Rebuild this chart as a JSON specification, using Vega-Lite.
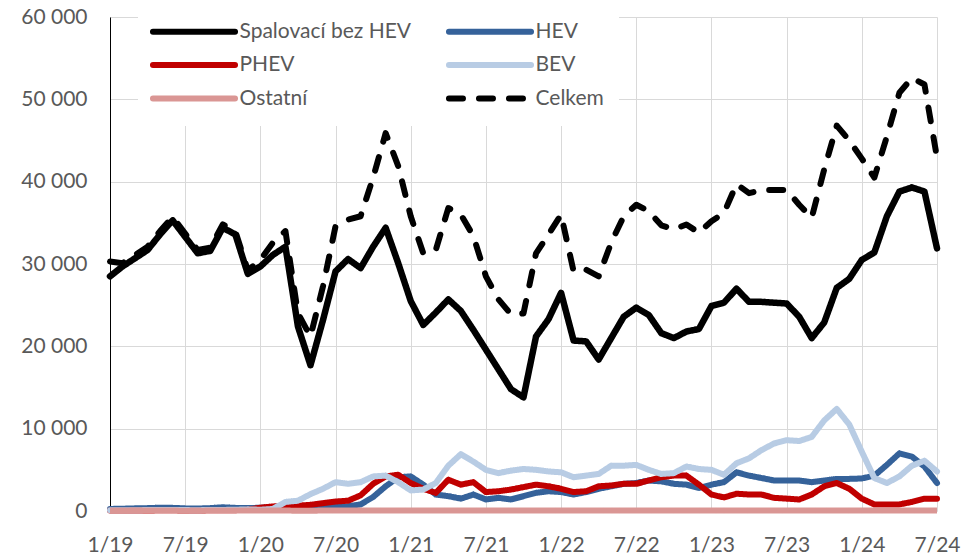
{
  "$schema": "https://vega.github.io/schema/vega-lite/v6.json",
  "width": 827,
  "height": 494,
  "autosize": "none",
  "padding": {"left": 110, "top": 17, "right": 37, "bottom": 44},
  "background": "white",
  "config": {
    "view": {"stroke": null},
    "font": "Lato",
    "locale": {"number": {"decimal": ",", "thousands": " ", "grouping": [3], "currency": ["", " Kč"]}},
    "axis": {"labelFont": "Lato", "labelFontSize": 21, "labelColor": "#595959", "gridColor": "#D9D9D9", "gridWidth": 1, "ticks": false, "title": null},
    "legend": {
      "title": null,
      "orient": "none",
      "legendX": 28,
      "legendY": -11,
      "columns": 2,
      "columnPadding": 24,
      "rowPadding": 8.5,
      "padding": 15,
      "fillColor": "white",
      "symbolType": "M-6,0H6",
      "symbolSize": 187,
      "symbolStrokeWidth": 6,
      "symbolOffset": 30.5,
      "labelOffset": 35,
      "labelFont": "Lato",
      "labelFontSize": 21,
      "labelColor": "#595959",
      "labelLimit": 400
    }
  },
  "data": {
    "values": [
      {"month": "1/19", "Spalovací bez HEV": 28500, "HEV": 250, "PHEV": 60, "BEV": 80, "Ostatní": 40, "Celkem": 30300},
      {"month": "2/19", "Spalovací bez HEV": 29700, "HEV": 280, "PHEV": 60, "BEV": 80, "Ostatní": 40, "Celkem": 30100},
      {"month": "3/19", "Spalovací bez HEV": 30700, "HEV": 320, "PHEV": 70, "BEV": 100, "Ostatní": 50, "Celkem": 31100},
      {"month": "4/19", "Spalovací bez HEV": 31700, "HEV": 350, "PHEV": 70, "BEV": 110, "Ostatní": 50, "Celkem": 32100},
      {"month": "5/19", "Spalovací bez HEV": 33600, "HEV": 400, "PHEV": 80, "BEV": 120, "Ostatní": 50, "Celkem": 34000},
      {"month": "6/19", "Spalovací bez HEV": 35300, "HEV": 380, "PHEV": 80, "BEV": 120, "Ostatní": 50, "Celkem": 35700},
      {"month": "7/19", "Spalovací bez HEV": 33300, "HEV": 320, "PHEV": 70, "BEV": 110, "Ostatní": 40, "Celkem": 33700},
      {"month": "8/19", "Spalovací bez HEV": 31300, "HEV": 300, "PHEV": 70, "BEV": 100, "Ostatní": 40, "Celkem": 31700},
      {"month": "9/19", "Spalovací bez HEV": 31600, "HEV": 350, "PHEV": 80, "BEV": 120, "Ostatní": 50, "Celkem": 32000},
      {"month": "10/19", "Spalovací bez HEV": 34400, "HEV": 450, "PHEV": 90, "BEV": 130, "Ostatní": 50, "Celkem": 34800},
      {"month": "11/19", "Spalovací bez HEV": 33600, "HEV": 380, "PHEV": 100, "BEV": 150, "Ostatní": 50, "Celkem": 34000},
      {"month": "12/19", "Spalovací bez HEV": 28800, "HEV": 350, "PHEV": 150, "BEV": 200, "Ostatní": 50, "Celkem": 29200},
      {"month": "1/20", "Spalovací bez HEV": 29700, "HEV": 400, "PHEV": 400, "BEV": 150, "Ostatní": 50, "Celkem": 30500},
      {"month": "2/20", "Spalovací bez HEV": 31100, "HEV": 450, "PHEV": 550, "BEV": 250, "Ostatní": 50, "Celkem": 32600},
      {"month": "3/20", "Spalovací bez HEV": 32100, "HEV": 500, "PHEV": 650, "BEV": 1100, "Ostatní": 50, "Celkem": 34000},
      {"month": "4/20", "Spalovací bez HEV": 22400, "HEV": 480, "PHEV": 650, "BEV": 1250, "Ostatní": 40, "Celkem": 24000},
      {"month": "5/20", "Spalovací bez HEV": 17700, "HEV": 450, "PHEV": 750, "BEV": 2050, "Ostatní": 40, "Celkem": 21200},
      {"month": "6/20", "Spalovací bez HEV": 23200, "HEV": 450, "PHEV": 950, "BEV": 2700, "Ostatní": 50, "Celkem": 27300},
      {"month": "7/20", "Spalovací bez HEV": 29100, "HEV": 500, "PHEV": 1150, "BEV": 3500, "Ostatní": 50, "Celkem": 34600},
      {"month": "8/20", "Spalovací bez HEV": 30600, "HEV": 570, "PHEV": 1250, "BEV": 3300, "Ostatní": 50, "Celkem": 35400},
      {"month": "9/20", "Spalovací bez HEV": 29500, "HEV": 800, "PHEV": 1900, "BEV": 3500, "Ostatní": 50, "Celkem": 35800},
      {"month": "10/20", "Spalovací bez HEV": 32100, "HEV": 1700, "PHEV": 3300, "BEV": 4200, "Ostatní": 60, "Celkem": 40500},
      {"month": "11/20", "Spalovací bez HEV": 34400, "HEV": 3000, "PHEV": 4200, "BEV": 4300, "Ostatní": 60, "Celkem": 45900},
      {"month": "12/20", "Spalovací bez HEV": 30100, "HEV": 4100, "PHEV": 4400, "BEV": 3500, "Ostatní": 60, "Celkem": 41900},
      {"month": "1/21", "Spalovací bez HEV": 25500, "HEV": 4200, "PHEV": 3400, "BEV": 2500, "Ostatní": 60, "Celkem": 35800},
      {"month": "2/21", "Spalovací bez HEV": 22600, "HEV": 3200, "PHEV": 2700, "BEV": 2600, "Ostatní": 60, "Celkem": 31300},
      {"month": "3/21", "Spalovací bez HEV": 24100, "HEV": 2000, "PHEV": 2200, "BEV": 3400, "Ostatní": 60, "Celkem": 31700},
      {"month": "4/21", "Spalovací bez HEV": 25700, "HEV": 1800, "PHEV": 3800, "BEV": 5500, "Ostatní": 60, "Celkem": 36800},
      {"month": "5/21", "Spalovací bez HEV": 24300, "HEV": 1500, "PHEV": 3200, "BEV": 6900, "Ostatní": 60, "Celkem": 36000},
      {"month": "6/21", "Spalovací bez HEV": 22000, "HEV": 2000, "PHEV": 3500, "BEV": 6000, "Ostatní": 60, "Celkem": 33400},
      {"month": "7/21", "Spalovací bez HEV": 19600, "HEV": 1400, "PHEV": 2300, "BEV": 5000, "Ostatní": 60, "Celkem": 28500},
      {"month": "8/21", "Spalovací bez HEV": 17200, "HEV": 1600, "PHEV": 2400, "BEV": 4600, "Ostatní": 60, "Celkem": 25700},
      {"month": "9/21", "Spalovací bez HEV": 14800, "HEV": 1400, "PHEV": 2600, "BEV": 4900, "Ostatní": 60, "Celkem": 23900},
      {"month": "10/21", "Spalovací bez HEV": 13800, "HEV": 1800, "PHEV": 2900, "BEV": 5100, "Ostatní": 60, "Celkem": 24000},
      {"month": "11/21", "Spalovací bez HEV": 21200, "HEV": 2200, "PHEV": 3200, "BEV": 5000, "Ostatní": 60, "Celkem": 31300},
      {"month": "12/21", "Spalovací bez HEV": 23300, "HEV": 2400, "PHEV": 3000, "BEV": 4800, "Ostatní": 60, "Celkem": 33600},
      {"month": "1/22", "Spalovací bez HEV": 26500, "HEV": 2300, "PHEV": 2700, "BEV": 4700, "Ostatní": 60, "Celkem": 36000},
      {"month": "2/22", "Spalovací bez HEV": 20700, "HEV": 2000, "PHEV": 2300, "BEV": 4100, "Ostatní": 60, "Celkem": 29100},
      {"month": "3/22", "Spalovací bez HEV": 20600, "HEV": 2300, "PHEV": 2400, "BEV": 4300, "Ostatní": 60, "Celkem": 29300},
      {"month": "4/22", "Spalovací bez HEV": 18400, "HEV": 2700, "PHEV": 3000, "BEV": 4500, "Ostatní": 60, "Celkem": 28500},
      {"month": "5/22", "Spalovací bez HEV": 21000, "HEV": 3000, "PHEV": 3100, "BEV": 5500, "Ostatní": 60, "Celkem": 32600},
      {"month": "6/22", "Spalovací bez HEV": 23600, "HEV": 3300, "PHEV": 3300, "BEV": 5500, "Ostatní": 60, "Celkem": 35800},
      {"month": "7/22", "Spalovací bez HEV": 24700, "HEV": 3400, "PHEV": 3300, "BEV": 5600, "Ostatní": 60, "Celkem": 37200},
      {"month": "8/22", "Spalovací bez HEV": 23800, "HEV": 3700, "PHEV": 3700, "BEV": 5000, "Ostatní": 60, "Celkem": 36400},
      {"month": "9/22", "Spalovací bez HEV": 21600, "HEV": 3600, "PHEV": 4100, "BEV": 4500, "Ostatní": 60, "Celkem": 34700},
      {"month": "10/22", "Spalovací bez HEV": 21000, "HEV": 3300, "PHEV": 4300, "BEV": 4600, "Ostatní": 60, "Celkem": 34200},
      {"month": "11/22", "Spalovací bez HEV": 21800, "HEV": 3200, "PHEV": 4300, "BEV": 5400, "Ostatní": 70, "Celkem": 34800},
      {"month": "12/22", "Spalovací bez HEV": 22100, "HEV": 2800, "PHEV": 3200, "BEV": 5100, "Ostatní": 70, "Celkem": 33800},
      {"month": "1/23", "Spalovací bez HEV": 24900, "HEV": 3200, "PHEV": 2000, "BEV": 5000, "Ostatní": 70, "Celkem": 35200},
      {"month": "2/23", "Spalovací bez HEV": 25300, "HEV": 3500, "PHEV": 1650, "BEV": 4400, "Ostatní": 70, "Celkem": 36200},
      {"month": "3/23", "Spalovací bez HEV": 27000, "HEV": 4700, "PHEV": 2100, "BEV": 5800, "Ostatní": 70, "Celkem": 39700},
      {"month": "4/23", "Spalovací bez HEV": 25400, "HEV": 4300, "PHEV": 2000, "BEV": 6400, "Ostatní": 70, "Celkem": 38600},
      {"month": "5/23", "Spalovací bez HEV": 25400, "HEV": 4000, "PHEV": 2000, "BEV": 7400, "Ostatní": 60, "Celkem": 39000},
      {"month": "6/23", "Spalovací bez HEV": 25300, "HEV": 3700, "PHEV": 1600, "BEV": 8200, "Ostatní": 60, "Celkem": 39000},
      {"month": "7/23", "Spalovací bez HEV": 25200, "HEV": 3700, "PHEV": 1500, "BEV": 8600, "Ostatní": 60, "Celkem": 39000},
      {"month": "8/23", "Spalovací bez HEV": 23600, "HEV": 3700, "PHEV": 1400, "BEV": 8500, "Ostatní": 60, "Celkem": 37200},
      {"month": "9/23", "Spalovací bez HEV": 21000, "HEV": 3500, "PHEV": 2000, "BEV": 9000, "Ostatní": 60, "Celkem": 35600},
      {"month": "10/23", "Spalovací bez HEV": 22900, "HEV": 3700, "PHEV": 3000, "BEV": 11000, "Ostatní": 60, "Celkem": 41500},
      {"month": "11/23", "Spalovací bez HEV": 27100, "HEV": 3900, "PHEV": 3400, "BEV": 12400, "Ostatní": 60, "Celkem": 46800},
      {"month": "12/23", "Spalovací bez HEV": 28200, "HEV": 3900, "PHEV": 2700, "BEV": 10500, "Ostatní": 60, "Celkem": 45000},
      {"month": "1/24", "Spalovací bez HEV": 30500, "HEV": 3950, "PHEV": 1500, "BEV": 7200, "Ostatní": 50, "Celkem": 42800},
      {"month": "2/24", "Spalovací bez HEV": 31400, "HEV": 4300, "PHEV": 800, "BEV": 4000, "Ostatní": 50, "Celkem": 40500},
      {"month": "3/24", "Spalovací bez HEV": 35800, "HEV": 5600, "PHEV": 800, "BEV": 3400, "Ostatní": 50, "Celkem": 45500},
      {"month": "4/24", "Spalovací bez HEV": 38800, "HEV": 7000, "PHEV": 800, "BEV": 4200, "Ostatní": 50, "Celkem": 50800},
      {"month": "5/24", "Spalovací bez HEV": 39300, "HEV": 6600, "PHEV": 1100, "BEV": 5500, "Ostatní": 50, "Celkem": 52600},
      {"month": "6/24", "Spalovací bez HEV": 38800, "HEV": 5400, "PHEV": 1500, "BEV": 6100, "Ostatní": 50, "Celkem": 51800},
      {"month": "7/24", "Spalovací bez HEV": 31900, "HEV": 3400, "PHEV": 1500, "BEV": 4800, "Ostatní": 50, "Celkem": 42900}
    ]
  },
  "transform": [
    {"fold": ["Spalovací bez HEV", "HEV", "PHEV", "BEV", "Ostatní", "Celkem"], "as": ["series", "value"]}
  ],
  "encoding": {
    "x": {
      "field": "month",
      "type": "ordinal",
      "scale": {
        "type": "point",
        "padding": 0,
        "domain": ["1/19","2/19","3/19","4/19","5/19","6/19","7/19","8/19","9/19","10/19","11/19","12/19",
                   "1/20","2/20","3/20","4/20","5/20","6/20","7/20","8/20","9/20","10/20","11/20","12/20",
                   "1/21","2/21","3/21","4/21","5/21","6/21","7/21","8/21","9/21","10/21","11/21","12/21",
                   "1/22","2/22","3/22","4/22","5/22","6/22","7/22","8/22","9/22","10/22","11/22","12/22",
                   "1/23","2/23","3/23","4/23","5/23","6/23","7/23","8/23","9/23","10/23","11/23","12/23",
                   "1/24","2/24","3/24","4/24","5/24","6/24","7/24"]
      },
      "axis": {
        "values": ["1/19","7/19","1/20","7/20","1/21","7/21","1/22","7/22","1/23","7/23","1/24","7/24"],
        "labelAngle": 0,
        "domain": false,
        "grid": true,
        "labelPadding": 23
      }
    },
    "y": {
      "field": "value",
      "type": "quantitative",
      "scale": {"domain": [0, 60000], "nice": false},
      "axis": {
        "values": [0, 10000, 20000, 30000, 40000, 50000, 60000],
        "format": ",d",
        "domain": true,
        "domainColor": "#000000",
        "domainWidth": 1,
        "grid": true,
        "labelPadding": 23
      }
    },
    "color": {
      "field": "series",
      "type": "nominal",
      "scale": {
        "domain": ["Spalovací bez HEV", "PHEV", "Ostatní", "HEV", "BEV", "Celkem"],
        "range": ["#000000", "#C00000", "#DA9694", "#35629A", "#B8CCE4", "#000000"]
      },
      "legend": {
        "labelExpr": "datum.label == 'Celkem' ? pad(datum.label, 28, '\u00a0') : datum.label",
        "encode": {"symbols": {"update": {"strokeCap": {"value": "round"}}}}
      }
    },
    "strokeDash": {
      "field": "series",
      "type": "nominal",
      "scale": {
        "domain": ["Spalovací bez HEV", "PHEV", "Ostatní", "HEV", "BEV", "Celkem"],
        "range": [[1, 0], [1, 0], [1, 0], [1, 0], [1, 0], [14, 16]]
      },
      "legend": {
        "labelExpr": "datum.label == 'Celkem' ? pad(datum.label, 28, '\u00a0') : datum.label",
        "encode": {"symbols": {"update": {"strokeCap": {"value": "round"}}}}
      }
    }
  },
  "layer": [
    {"transform": [{"filter": {"field": "series", "equal": "Spalovací bez HEV"}}], "mark": {"type": "line", "strokeWidth": 6.5, "strokeCap": "round", "strokeJoin": "round"}},
    {"transform": [{"filter": {"field": "series", "equal": "HEV"}}], "mark": {"type": "line", "strokeWidth": 6, "strokeCap": "round", "strokeJoin": "round"}},
    {"transform": [{"filter": {"field": "series", "equal": "PHEV"}}], "mark": {"type": "line", "strokeWidth": 6, "strokeCap": "round", "strokeJoin": "round"}},
    {"transform": [{"filter": {"field": "series", "equal": "BEV"}}], "mark": {"type": "line", "strokeWidth": 6, "strokeCap": "round", "strokeJoin": "round"}},
    {"transform": [{"filter": {"field": "series", "equal": "Ostatní"}}], "mark": {"type": "line", "strokeWidth": 6, "strokeCap": "butt", "strokeJoin": "round"}},
    {"transform": [{"filter": {"field": "series", "equal": "Celkem"}}], "mark": {"type": "line", "strokeWidth": 6, "strokeCap": "round", "strokeJoin": "round"}}
  ]
}
